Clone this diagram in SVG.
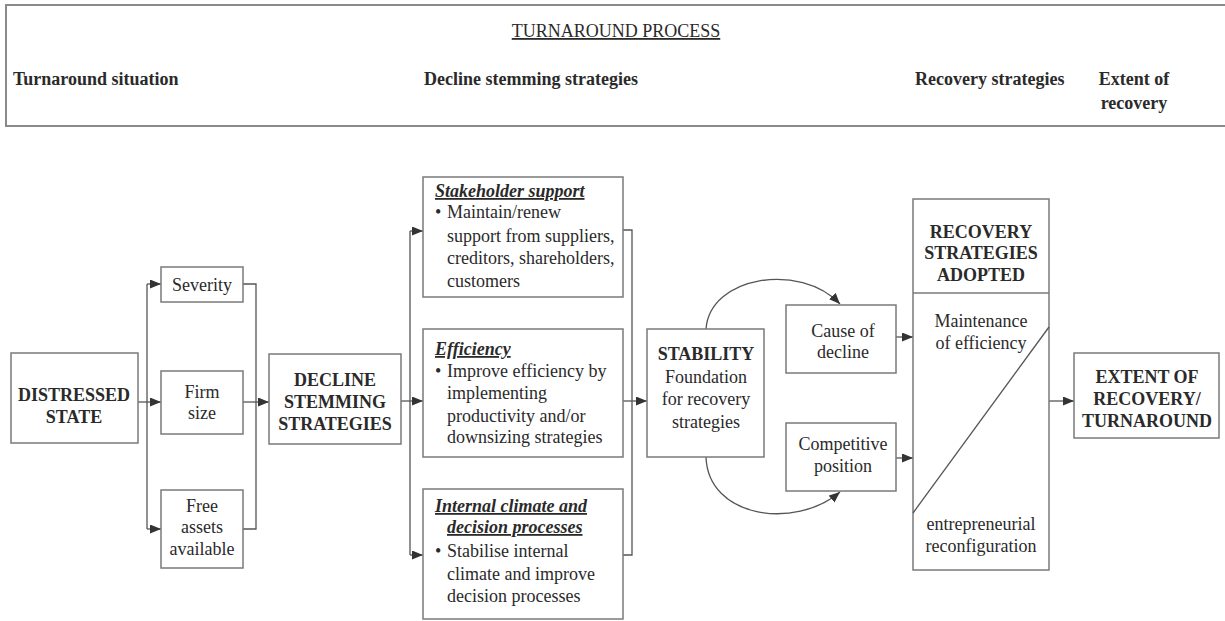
<svg xmlns="http://www.w3.org/2000/svg" width="1225" height="621" viewBox="0 0 1225 621">
<defs>
<marker id="ah" markerUnits="userSpaceOnUse" markerWidth="12" markerHeight="10" refX="11" refY="4.5" orient="auto">
<path d="M0,0 L11,4.5 L0,9 z" fill="#333"/>
</marker>
<style>
text{font-family:"Liberation Serif","Times New Roman",serif;font-size:18px;fill:#2a2a2a}
.b{font-weight:bold}
.c{text-anchor:middle}
.t{font-weight:bold;font-style:italic;text-decoration:underline}
.box{fill:#fff;stroke:#7a7a7a;stroke-width:1.5}
.con line,.con path,.con polyline{stroke:#555;stroke-width:1.3;fill:none}
.hd{fill:#fff;stroke:#8a8a8a;stroke-width:2}
</style>
</defs>
<rect width="1225" height="621" fill="#fff"/>

<g id="header">
<rect class="hd" x="6" y="5" width="1225" height="121"/>
<text class="c" x="616" y="37" style="text-decoration:underline">TURNAROUND PROCESS</text>
<text class="b" x="13" y="85">Turnaround situation</text>
<text class="b" x="424" y="85">Decline stemming strategies</text>
<text class="b" x="915" y="85">Recovery strategies</text>
<text class="b c" x="1134" y="85">Extent of</text>
<text class="b c" x="1134" y="109">recovery</text>
</g>

<g class="con" id="connectors">
<line x1="147" y1="284" x2="147" y2="529"/>
<line x1="147" y1="284" x2="161" y2="284" marker-end="url(#ah)"/>
<line x1="147" y1="529" x2="161" y2="529" marker-end="url(#ah)"/>
<line x1="138" y1="402" x2="161" y2="402" marker-end="url(#ah)"/>
<polyline points="243,284 256,284 256,529 243,529"/>
<line x1="243" y1="402" x2="269" y2="402" marker-end="url(#ah)"/>
<line x1="401" y1="401" x2="423" y2="401" marker-end="url(#ah)"/>
<line x1="410" y1="231" x2="410" y2="555"/>
<line x1="410" y1="231" x2="423" y2="231" marker-end="url(#ah)"/>
<line x1="410" y1="555" x2="423" y2="555" marker-end="url(#ah)"/>
<polyline points="623,230 632,230 632,555 623,555"/>
<line x1="623" y1="401" x2="647" y2="401" marker-end="url(#ah)"/>
<path d="M706,329 C710,276 800,262 840,304" marker-end="url(#ah)"/>
<path d="M706,457 C708,518 795,530 840,492" marker-end="url(#ah)"/>
<line x1="896" y1="337" x2="913" y2="337" marker-end="url(#ah)"/>
<line x1="896" y1="458" x2="913" y2="458" marker-end="url(#ah)"/>
<line x1="1049" y1="401" x2="1074" y2="401" marker-end="url(#ah)"/>
</g>

<g id="distressed">
<rect class="box" x="11" y="353" width="127" height="90"/>
<text class="b c" x="74" y="401">DISTRESSED</text>
<text class="b c" x="74" y="423">STATE</text>
</g>
<g id="severity">
<rect class="box" x="161" y="267" width="82" height="35"/>
<text class="c" x="202" y="291">Severity</text>
</g>
<g id="firmsize">
<rect class="box" x="161" y="371" width="82" height="63"/>
<text class="c" x="202" y="398">Firm</text>
<text class="c" x="202" y="419">size</text>
</g>
<g id="freeassets">
<rect class="box" x="161" y="490" width="82" height="78"/>
<text class="c" x="202" y="512">Free</text>
<text class="c" x="202" y="533">assets</text>
<text class="c" x="202" y="555">available</text>
</g>
<g id="decline">
<rect class="box" x="269" y="354" width="132" height="90"/>
<text class="b c" x="335" y="386">DECLINE</text>
<text class="b c" x="335" y="408">STEMMING</text>
<text class="b c" x="335" y="430">STRATEGIES</text>
</g>
<g id="stakeholder">
<rect class="box" x="423" y="177" width="200" height="120"/>
<text class="t" x="435" y="197">Stakeholder support</text>
<text x="435" y="218">•</text>
<text x="447" y="218">Maintain/renew</text>
<text x="447" y="242">support from suppliers,</text>
<text x="447" y="264">creditors, shareholders,</text>
<text x="447" y="287">customers</text>
</g>
<g id="efficiency">
<rect class="box" x="423" y="329" width="200" height="128"/>
<text class="t" x="435" y="355">Efficiency</text>
<text x="435" y="377">•</text>
<text x="447" y="377">Improve efficiency by</text>
<text x="447" y="399">implementing</text>
<text x="447" y="422">productivity and/or</text>
<text x="447" y="443">downsizing strategies</text>
</g>
<g id="internal">
<rect class="box" x="423" y="489" width="200" height="130"/>
<text class="t" x="435" y="512">Internal climate and</text>
<text class="t" x="447" y="533">decision processes</text>
<text x="435" y="557">•</text>
<text x="447" y="557">Stabilise internal</text>
<text x="447" y="580">climate and improve</text>
<text x="447" y="602">decision processes</text>
</g>
<g id="stability">
<rect class="box" x="647" y="329" width="117" height="128"/>
<text class="b c" x="706" y="360">STABILITY</text>
<text class="c" x="706" y="383">Foundation</text>
<text class="c" x="706" y="405">for recovery</text>
<text class="c" x="706" y="428">strategies</text>
</g>
<g id="cause">
<rect class="box" x="786" y="305" width="110" height="68"/>
<text class="c" x="843" y="337">Cause of</text>
<text class="c" x="843" y="358">decline</text>
</g>
<g id="competitive">
<rect class="box" x="786" y="423" width="110" height="68"/>
<text class="c" x="843" y="450">Competitive</text>
<text class="c" x="843" y="472">position</text>
</g>
<g id="recovery">
<rect class="box" x="913" y="199" width="136" height="371"/>
<line x1="913" y1="293" x2="1049" y2="293" stroke="#7a7a7a" stroke-width="1.3"/>
<line x1="913" y1="513" x2="1049" y2="327" stroke="#555" stroke-width="1.3"/>
<text class="b c" x="981" y="238">RECOVERY</text>
<text class="b c" x="981" y="259">STRATEGIES</text>
<text class="b c" x="981" y="281">ADOPTED</text>
<text class="c" x="981" y="327">Maintenance</text>
<text class="c" x="981" y="349">of efficiency</text>
<text class="c" x="981" y="530">entrepreneurial</text>
<text class="c" x="981" y="552">reconfiguration</text>
</g>
<g id="extent">
<rect class="box" x="1074" y="353" width="145" height="85"/>
<text class="b c" x="1147" y="383">EXTENT OF</text>
<text class="b c" x="1147" y="405">RECOVERY/</text>
<text class="b c" x="1147" y="427">TURNAROUND</text>
</g>
</svg>
